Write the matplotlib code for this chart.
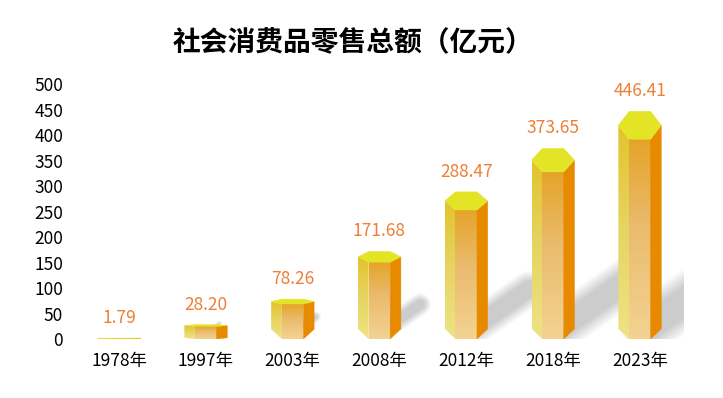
import matplotlib
matplotlib.use('Agg')
import matplotlib.pyplot as plt
import numpy as np
from matplotlib.colors import LinearSegmentedColormap
from matplotlib.patches import Polygon

# data
years = ['1978年', '1997年', '2003年', '2008年', '2012年', '2018年', '2023年']
totals = [1.79, 28.20, 78.26, 171.68, 288.47, 373.65, 446.41]
value_labels = ['1.79', '28.20', '78.26', '171.68', '288.47', '373.65', '446.41']
yticks = [0, 50, 100, 150, 200, 250, 300, 350, 400, 450, 500]

plt.rcParams['font.family'] = ['Noto Sans CJK SC', 'DejaVu Sans']

fig = plt.figure(figsize=(7.23, 3.98), dpi=100)
ax = fig.add_axes([0.1046, 0.1482, 0.8404, 0.6407])
ax.set_autoscale_on(False)
ax.set_xlim(-0.5, len(years) - 0.5)
ax.set_ylim(0, 500)

front_cmap = LinearSegmentedColormap.from_list('front', ['#F3D292', '#EABB6C', '#E49C14'])
left_cmap = LinearSegmentedColormap.from_list('left', ['#EEE284', '#E6D460', '#E2C126'])
grad = np.linspace(0, 1, 64).reshape(-1, 1)

W = 0.2475  # half width of hexagon (x units)

# soft shadows, worked out in display pixels
bb = ax.bbox
nx, ny = int(round(bb.width)), int(round(bb.height))
gx = bb.x0 + np.arange(nx) + 0.5
gy = bb.y0 + np.arange(ny) + 0.5
GX, GY = np.meshgrid(gx, gy)
shade = np.zeros((ny, nx))
sy = bb.height / 500.0
ang = np.deg2rad(35)
for i, v in enumerate(totals):
    cx, _ = ax.transData.transform((i, 0))
    h = v * sy
    sx0, sy0 = cx + 8, bb.y0 + 12
    L = 0.45 * h
    ex, ey = sx0 + L * np.cos(ang), sy0 + L * np.sin(ang)
    dx, dy = ex - sx0, ey - sy0
    t = np.clip(((GX - sx0) * dx + (GY - sy0) * dy) / max(dx * dx + dy * dy, 1e-9), 0, 1)
    dist = np.hypot(GX - (sx0 + t * dx), GY - (sy0 + t * dy))
    r = 0.09 * h
    s = 0.06 * h + 2
    shade = np.maximum(shade, np.clip((r - dist) / s + 0.5, 0, 1))
rgba = np.zeros((ny, nx, 4))
rgba[..., 3] = 0.2 * shade
ax.imshow(rgba, extent=(-0.5, len(years) - 0.5, 0, 500), origin='lower',
          aspect='auto', zorder=1, interpolation='bilinear')

for i, v in enumerate(totals):
    d = 0.0615 * v
    e = 20 * min(1.0, v / 80.0) ** 2
    top_y = v - 2 * d
    z = 2 + i
    left = [(i - W, v - d), (i - W / 2, top_y), (i - W / 2, 0), (i - W, e)]
    front = [(i - W / 2, top_y), (i + W / 2, top_y), (i + W / 2, 0), (i - W / 2, 0)]
    right = [(i + W / 2, top_y), (i + W, v - d), (i + W, e), (i + W / 2, 0)]
    top = [(i - W, v - d), (i - W / 2, v), (i + W / 2, v), (i + W, v - d),
           (i + W / 2, top_y), (i - W / 2, top_y)]

    for pts, cmap in ((left, left_cmap), (front, front_cmap)):
        clip = Polygon(pts, closed=True, transform=ax.transData)
        im = ax.imshow(grad, cmap=cmap, origin='lower', aspect='auto',
                       extent=(i - W, i + W, 0, max(v, 0.5)), zorder=z,
                       interpolation='bilinear')
        im.set_clip_path(clip)
    ax.add_patch(Polygon(right, closed=True, facecolor='#E88A00', edgecolor='#E88A00',
                         linewidth=0.3, zorder=z + 0.1))
    ax.add_patch(Polygon(top, closed=True, facecolor='#E2E425', edgecolor='#E2E425',
                         linewidth=0.3, zorder=z + 0.2))
    ax.annotate(value_labels[i], (i, v), xytext=(0, 14.4), textcoords='offset points',
                ha='center', va='center', color='#EF7E36', fontsize=12.5, zorder=20)

ax.set_xticks(range(len(years)))
ax.set_xticklabels(years)
ax.set_yticks(yticks)
ax.tick_params(axis='both', length=0, labelsize=12.5, colors='black')
ax.tick_params(axis='x', pad=9)
ax.tick_params(axis='y', pad=9)
for sp in ax.spines.values():
    sp.set_visible(False)
ax.set_xlim(-0.5, len(years) - 0.5)
ax.set_ylim(0, 500)

fig.text(0.488, 1 - 43 / 398, '社会消费品零售总额（亿元）', ha='center', va='center',
         fontsize=20, fontweight='bold', color='black')

fig.savefig('out.png', dpi=100, facecolor='white')
